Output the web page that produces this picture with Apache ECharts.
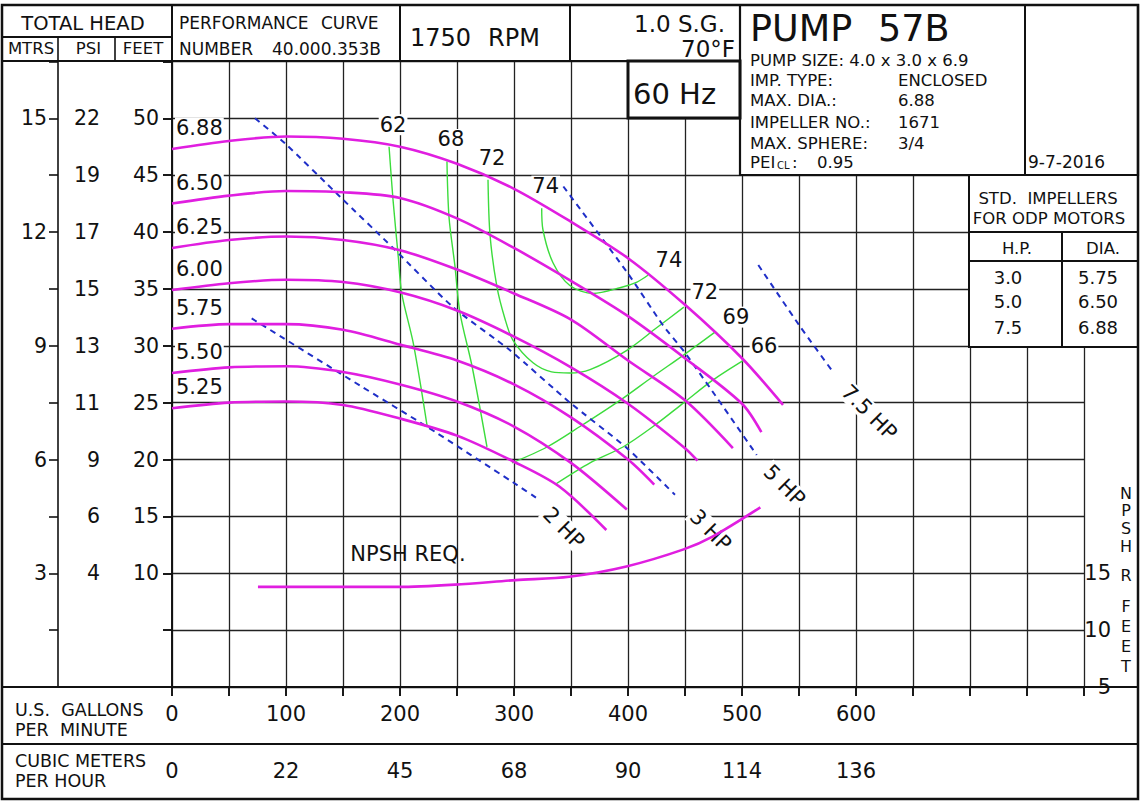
<!DOCTYPE html>
<html><head><meta charset="utf-8">
<script src="https://cdn.jsdelivr.net/npm/echarts@6/dist/echarts.min.js"></script>
<style>html,body{margin:0;padding:0;background:#fff}#c{width:1140px;height:801px}</style>
</head><body><div id="c"></div><script>
// ---------------- DATA ----------------
const gpmTickValues = [0, 100, 200, 300, 400, 500, 600];
const gpmTickLabels = ['0', '100', '200', '300', '400', '500', '600'];
const cmhTickLabels = ['0', '22', '45', '68', '90', '114', '136'];
const feetTickValues = [10, 15, 20, 25, 30, 35, 40, 45, 50];
const feetTickLabels = ['10', '15', '20', '25', '30', '35', '40', '45', '50'];
const psiTickLabels = ['4', '6', '9', '11', '13', '15', '17', '19', '22'];
const mtrsTickValues = [10, 20, 30, 40, 50];
const mtrsTickLabels = ['3', '6', '9', '12', '15'];
const npshTickValues = [5, 10, 15];
const npshTickLabels = ['5', '10', '15'];

// impeller head curves: [GPM, feet]
const impellerDiameters = ['6.88', '6.50', '6.25', '6.00', '5.75', '5.50', '5.25'];
const head688 = [[0,47.3],[50,48.0],[100,48.4],[150,48.2],[200,47.5],[250,46.0],[300,43.8],[350,40.9],[400,37.7],[450,33.6],[500,28.9],[536,24.8]];
const head650 = [[0,42.5],[50,43.2],[100,43.6],[150,43.5],[200,43.0],[250,41.2],[300,38.6],[350,35.7],[400,32.6],[450,28.9],[500,24.9],[517,22.4]];
const head625 = [[0,38.6],[50,39.3],[100,39.6],[150,39.3],[200,38.4],[250,36.7],[300,34.6],[350,32.3],[400,28.7],[450,25.2],[492,21.0]];
const head600 = [[0,34.9],[50,35.5],[100,35.8],[150,35.6],[200,34.7],[250,33.1],[300,30.8],[350,28.1],[400,24.9],[450,21.0],[461,19.9]];
const head575 = [[0,31.5],[50,31.9],[100,31.9],[150,31.4],[200,30.1],[250,28.7],[300,26.6],[350,23.7],[400,20.0],[423,17.8]];
const head550 = [[0,27.6],[50,28.1],[100,28.2],[150,27.7],[200,26.6],[250,25.1],[300,22.9],[350,19.7],[399,15.6]];
const head525 = [[0,24.5],[50,25.0],[100,25.1],[150,24.8],[200,23.6],[250,22.1],[300,19.8],[340,17.6],[381,13.8]];
const impellerCurves = [head688, head650, head625, head600, head575, head550, head525];

// iso-efficiency curves (%)
const efficiencyNames = ['62', '68', '72', '74', '69', '66'];
const eff62 = [[190.4,47.5],[193.9,42.8],[198.5,37.8],[201.5,34.6],[211.7,30.2],[223.7,23.0]];
const eff68 = [[241.2,46.2],[243,41.3],[248.2,37.0],[252.6,32.9],[263.2,28.2],[276.3,21.1]];
const eff72 = [[277.2,44.6],[279,39.7],[285,35.2],[292,32.4],[299,30.5],[316.7,28.5],[333,27.7],[349,27.6],[366.7,27.9],[399,29.6],[425.4,31.6],[449,33.4]];
const eff74 = [[324.3,42.1],[325.4,40.2],[334.2,37.3],[349,35.3],[369.3,34.6],[393,35.1],[407.9,35.6],[417.5,36.2]];
const eff69 = [[298.2,19.7],[329,21.1],[357.9,22.9],[393,25.2],[422,27.3],[449,29.2],[476.3,31.2]];
const eff66 = [[336,17.8],[366.7,19.7],[395.6,21.1],[422,22.9],[449,25.0],[474.6,27.0],[500.9,28.7]];
const efficiencyCurves = [eff62, eff68, eff72, eff74, eff69, eff66];
const efficiencyLabelEnds = [['start'], ['start'], ['start', 'end'], ['start', 'end'], ['end'], ['end']];

// horsepower lines
const hpNames = ['2 HP', '3 HP', '5 HP', '7.5 HP'];
const hp2 = [[69.9,32.4],[164.9,26.5],[223.4,22.9],[299.1,18.0],[320,16.6]];
const hp3 = [[72.8,50.0],[99.1,47.8],[147.4,43.1],[193.9,38.6],[246.5,33.4],[296.5,29.6],[349.1,25.0],[399.1,21.0],[441.2,16.9]];
const hp5 = [[343.3,44.0],[398.9,36.5],[430.7,31.8],[449.1,29.5],[471.9,26.3],[512.9,20.4]];
const hp75 = [[514.3,37.1],[550.9,31.7],[579.8,27.7]];
const hpCurves = [hp2, hp3, hp5, hp75];

// NPSH required (feet, right axis)
const npshReq = [[75.4,13.8],[198.2,13.8],[248.2,14.0],[301.5,14.4],[348.5,14.7],[398.6,15.6],[448.8,17.1],[473.7,18.2],[516.1,20.8]];

// header / tables
const pumpInfoKeys = ['PUMP SIZE: 4.0 x 3.0 x 6.9', 'IMP. TYPE:', 'MAX. DIA.:', 'IMPELLER NO.:', 'MAX. SPHERE:'];
const pumpInfoValues = ['', 'ENCLOSED', '6.88', '1671', '3/4'];
const stdHP = ['3.0', '5.0', '7.5'];
const stdDia = ['5.75', '6.50', '6.88'];
const npshTitleLetters = ['N', 'P', 'S', 'H', 'R', 'F', 'E', 'E', 'T'];

// ---------------- STYLE / LAYOUT ----------------
const FONT = 'DejaVu Sans';
const INK = '#111';
const MAGENTA = '#e01ee0';
const GREEN = '#3cdc3c';
const BLUE = '#1f2fc8';
const GRIDC = '#222';

function pick(values, labels) {
  return v => { const i = values.indexOf(Math.round(v * 1000) / 1000); return i < 0 ? '' : labels[i]; };
}
const baseLabel = { fontFamily: FONT, color: INK, textBorderWidth: 0, opacity: 1 };
const hidden = { opacity: 1, color: 'transparent' };

const chart = echarts.init(document.getElementById('c'), null, { renderer: 'svg', width: 1140, height: 801 });

const series = [];
impellerCurves.forEach((d, i) => series.push({
  type: 'line', name: impellerDiameters[i], data: d, smooth: 0.3, symbol: 'none', z: 4, silent: true,
  lineStyle: { color: MAGENTA, width: 2.6 }
}));
efficiencyCurves.forEach((d, i) => series.push({
  type: 'line', name: efficiencyNames[i] + '%', data: d, smooth: 0.3, symbol: 'none', z: 3, silent: true,
  lineStyle: { color: GREEN, width: 1.4 }
}));
hpCurves.forEach((d, i) => series.push({
  type: 'line', name: hpNames[i], data: d, smooth: 0.2, symbol: 'none', z: 3, silent: true,
  lineStyle: { color: BLUE, width: 2, type: [6, 5] }
}));
series.push({
  type: 'line', name: 'NPSHR', data: npshReq, yAxisIndex: 3, smooth: 0.3, symbol: 'none', z: 4, silent: true,
  lineStyle: { color: MAGENTA, width: 2.6 }
});
// diameter labels at curve starts
series.push({
  type: 'scatter', symbolSize: 0, z: 1, silent: true, itemStyle: hidden,
  data: impellerCurves.map((d, i) => ({ value: d[0], label: { formatter: impellerDiameters[i] } })),
  label: Object.assign({ show: true, position: 'right', distance: 0, offset: [3, -21], fontSize: 21,
    backgroundColor: '#fff', padding: [0, 1] }, baseLabel)
});
// efficiency labels
const effLabelData = [];
efficiencyCurves.forEach((d, i) => {
  efficiencyLabelEnds[i].forEach(end => {
    effLabelData.push({ value: end === 'start' ? d[0] : d[d.length - 1],
      label: { formatter: efficiencyNames[i], offset: end === 'start' ? [4, -22] : [21, -15] } });
  });
});
series.push({
  type: 'scatter', symbolSize: 0, z: 1, silent: true, itemStyle: hidden, data: effLabelData,
  label: Object.assign({ show: true, position: 'inside', fontSize: 21, backgroundColor: '#fff', padding: [0, 1] }, baseLabel)
});
// HP labels
const hpOffsets = [[14, 2], [24, 0], [15, 2], [18, 3]];
series.push({
  type: 'scatter', symbolSize: 0, z: 1, silent: true, itemStyle: hidden,
  data: hpCurves.map((d, i) => ({ value: d[d.length - 1], label: { formatter: hpNames[i], offset: hpOffsets[i] } })),
  label: Object.assign({ show: true, position: 'inside', align: 'left', verticalAlign: 'middle', rotate: -45,
    fontSize: 21, backgroundColor: '#fff', padding: [0, 2] }, baseLabel)
});
// NPSH REQ. label
series.push({
  type: 'scatter', symbolSize: 0, z: 1, silent: true, yAxisIndex: 3, itemStyle: hidden,
  data: [{ value: npshReq[1], label: { formatter: 'NPSH REQ.' } }],
  label: Object.assign({ show: true, position: 'inside', offset: [10, -33], fontSize: 21 }, baseLabel)
});

// ---------- graphic (frame, header, tables) ----------
const G = [];
function gLine(x1, y1, x2, y2, w) { G.push({ type: 'line', z: 60, silent: true, shape: { x1, y1, x2, y2 }, style: { stroke: INK, lineWidth: w || 2 } }); }
function gRect(x, y, w, h, lw, fill) { G.push({ type: 'rect', z: 60, silent: true, shape: { x, y, width: w, height: h }, style: { fill: fill || 'none', stroke: INK, lineWidth: lw || 2 } }); }
function gText(x, y, text, size, align, extra) {
  G.push({ type: 'text', z: 62, silent: true, x, y,
    style: Object.assign({ text, fontSize: size, fontFamily: FONT, fill: INK, align: align || 'left', verticalAlign: 'middle' }, extra || {}) });
}
// header cells
gRect(740, 5, 398, 170, 2.2, '#fff');
gLine(1025, 5, 1025, 175, 2);
gLine(2, 37, 172, 37, 2);
gLine(2, 61, 740, 61, 2);
gLine(58, 37, 58, 61, 1.6);
gLine(115, 37, 115, 61, 1.6);
gLine(172, 5, 172, 61, 2);
gLine(400, 5, 400, 61, 2);
gLine(570, 5, 570, 61, 2);
gRect(628, 61, 112, 57, 3, '#fff');
// std impellers table
gRect(969, 175, 169, 172, 2, '#fff');
gLine(969, 232, 1138, 232, 2);
gLine(969, 261, 1138, 261, 2);
gLine(1062, 232, 1062, 347, 2);
// bottom rows
gLine(2, 687, 1138, 687, 2);
gLine(2, 744, 1138, 744, 2);
// outer frame
G.push({ type: 'rect', z: 63, silent: true, shape: { x: 2, y: 5, width: 1136, height: 794 }, style: { fill: 'none', stroke: INK, lineWidth: 2.5 } });

// texts
gText(83, 23, 'TOTAL HEAD', 19.5, 'center');
gText(31, 48.5, 'MTRS', 16.5, 'center');
gText(88.5, 48.5, 'PSI', 16.5, 'center');
gText(143, 48.5, 'FEET', 16.5, 'center');
gText(179, 22.5, 'PERFORMANCE', 17);
gText(321, 22.5, 'CURVE', 17);
gText(179, 48.5, 'NUMBER', 17);
gText(272, 48.5, '40.000.353B', 17);
gText(410, 37.5, '1750', 24);
gText(488, 37.5, 'RPM', 24);
gText(725, 23.5, '1.0 S.G.', 23, 'right');
gText(735, 48.5, '70°F', 23, 'right');
gText(633, 93.5, '60 Hz', 29);
gText(750, 28.5, 'PUMP', 36.5);
gText(878, 28.5, '57B', 36.5);
const infoY = [60, 80, 100, 122, 143];
pumpInfoKeys.forEach((k, i) => { gText(750, infoY[i], k, 16.5); if (pumpInfoValues[i]) gText(898, infoY[i], pumpInfoValues[i], 16.5); });
gText(750, 162, 'PEI', 16.5, 'left', { lineHeight: 14 });
gText(777, 165.5, 'CL', 10, 'left', { lineHeight: 8 });
gText(792, 162, ':', 16.5, 'left', { lineHeight: 14 });
gText(817, 162, '0.95', 16.5);
gText(1028, 162, '9-7-2016', 17);
gText(1048, 198, 'STD.  IMPELLERS', 16.5, 'center');
gText(1049, 218, 'FOR ODP MOTORS', 16.5, 'center');
gText(1017, 248, 'H.P.', 16.5, 'center');
gText(1103, 248, 'DIA.', 16.5, 'center');
const stdY = [277.5, 301.5, 327.5];
stdHP.forEach((v, i) => gText(1008, stdY[i], v, 18, 'center'));
stdDia.forEach((v, i) => gText(1098, stdY[i], v, 18, 'center'));
gText(15, 710, 'U.S.  GALLONS', 17.5);
gText(15, 730, 'PER  MINUTE', 17.5);
gText(15, 761, 'CUBIC METERS', 17.5);
gText(15, 781, 'PER HOUR', 17.5);
const npshTitleY = [493, 510.5, 528, 546, 575, 606.5, 626.5, 646.5, 666];
npshTitleLetters.forEach((ch, i) => gText(1126, npshTitleY[i], ch, 16, 'center', { lineHeight: 14 }));

const axisLineStyle = { color: INK, width: 1.6 };
const option = {
  animation: false,
  backgroundColor: '#fff',
  grid: { left: 172, right: 56, top: 61.4, bottom: 114, containLabel: false },
  xAxis: [
    { type: 'value', min: 0, max: 800, interval: 50, position: 'bottom',
      axisLine: { show: false }, axisTick: { show: true, length: 9, lineStyle: axisLineStyle },
      axisLabel: Object.assign({ formatter: pick(gpmTickValues, gpmTickLabels), fontSize: 21, margin: 16 }, baseLabel),
      splitLine: { show: true, lineStyle: { color: GRIDC, width: 1.3 } } },
    { type: 'value', min: 0, max: 800, interval: 50, position: 'bottom', offset: 57,
      axisLine: { show: false }, axisTick: { show: true, length: 9, lineStyle: axisLineStyle },
      axisLabel: Object.assign({ formatter: pick(gpmTickValues, cmhTickLabels), fontSize: 21, margin: 16 }, baseLabel),
      splitLine: { show: false } }
  ],
  yAxis: [
    { type: 'value', min: 0, max: 55, interval: 5, position: 'left',
      axisLine: { show: true, lineStyle: axisLineStyle }, axisTick: { show: true, length: 9, lineStyle: axisLineStyle },
      axisLabel: Object.assign({ formatter: pick(feetTickValues, feetTickLabels), fontSize: 20.5, margin: 13 }, baseLabel),
      splitLine: { show: true, lineStyle: { color: GRIDC, width: 1.3 } } },
    { type: 'value', min: 0, max: 55, interval: 5, position: 'left', offset: 57,
      axisLine: { show: true, lineStyle: axisLineStyle }, axisTick: { show: true, length: 9, lineStyle: axisLineStyle },
      axisLabel: Object.assign({ formatter: pick(feetTickValues, psiTickLabels), fontSize: 20.5, margin: 15 }, baseLabel),
      splitLine: { show: false } },
    { type: 'value', min: 0, max: 55, interval: 5, position: 'left', offset: 114,
      axisLine: { show: true, lineStyle: axisLineStyle }, axisTick: { show: true, length: 9, lineStyle: axisLineStyle },
      axisLabel: Object.assign({ formatter: pick(mtrsTickValues, mtrsTickLabels), fontSize: 20.5, margin: 11 }, baseLabel),
      splitLine: { show: false } },
    { type: 'value', min: 5, max: 60, interval: 5, position: 'right',
      axisLine: { show: false }, axisTick: { show: false },
      axisLabel: Object.assign({ formatter: pick(npshTickValues, npshTickLabels), fontSize: 21, margin: 27, align: 'right' }, baseLabel),
      splitLine: { show: false } }
  ],
  series: series,
  graphic: { elements: G }
};
chart.setOption(option);
</script></body></html>
